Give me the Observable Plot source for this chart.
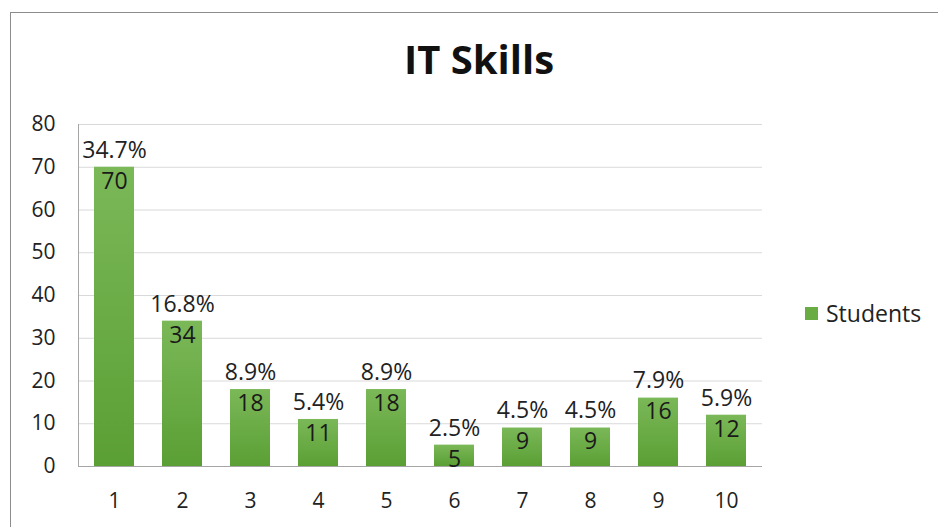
<!DOCTYPE html>
<html><head><meta charset="utf-8">
<script src="https://cdn.jsdelivr.net/npm/d3@7"></script>
<script src="https://cdn.jsdelivr.net/npm/@observablehq/plot@0.6"></script>
<style>
body{margin:0;background:#fff;font-family:"Open Sans",sans-serif;}
#wrap{position:relative;width:938px;height:527px;overflow:hidden;}
#frame{position:absolute;left:10px;top:12px;width:940px;height:530px;border:1px solid #8c8c8c;box-sizing:border-box;}
#title{position:absolute;left:0;top:33px;width:958px;text-align:center;font-size:40px;line-height:52px;font-weight:bold;color:#111;}
#chart{position:absolute;left:0;top:110px;}
#legend{position:absolute;left:805px;top:297px;font-size:23px;color:#222;display:flex;align-items:center;line-height:32px;}
#legend span.sw{display:inline-block;width:13px;height:13px;background:#6aac44;margin-right:8px;}
</style></head>
<body>
<div id="wrap">
<div id="frame"></div>
<div id="title">IT Skills</div>
<div id="chart"></div>
<div id="legend"><span class="sw"></span>Students</div>
</div>
<script>
const categories = ["1","2","3","4","5","6","7","8","9","10"];
const students = [70,34,18,11,18,5,9,9,16,12];
const percents = ["34.7%","16.8%","8.9%","5.4%","8.9%","2.5%","4.5%","4.5%","7.9%","5.9%"];
const yTicks = [0,10,20,30,40,50,60,70,80];

const data = categories.map((c,i)=>({cat:c, value:students[i], pct:percents[i]}));

const plot = Plot.plot({
  width: 938,
  height: 417,
  marginLeft: 78,
  marginRight: 176,
  marginTop: 14,
  marginBottom: 61,
  style: {fontFamily: "'Open Sans', sans-serif", fontSize: "21px", color: "#222", background: "transparent"},
  x: {domain: categories, label: null, paddingInner: 0.415, paddingOuter: 0.2075, tickSize: 0, tickPadding: 27},
  y: {domain: [0, 80], ticks: yTicks, label: null, tickSize: 0, tickPadding: 23},
  marks: [
    Plot.gridY(yTicks.filter(d=>d>0), {stroke: "#d9d9d9", strokeOpacity: 1}),
    Plot.frame({anchor: "left", stroke: "#a6a6a6"}),
    Plot.barY(data, {x: "cat", y: "value", fill: "url(#barGrad)"}),
    Plot.ruleY([0], {stroke: "#a6a6a6"}),
    Plot.text(data, {x: "cat", y: "value", text: "pct", dy: -17, fill: "#222", fontSize: 23}),
    Plot.text(data, {x: "cat", y: "value", text: d=>String(d.value), dy: 14, fill: "#1a1a1a", fontSize: 23})
  ]
});
const svg = d3.select(plot);
const defs = svg.insert("defs", ":first-child");
const g = defs.append("linearGradient").attr("id","barGrad").attr("x1",0).attr("y1",0).attr("x2",0).attr("y2",1);
g.append("stop").attr("offset","0%").attr("stop-color","#7bb858");
g.append("stop").attr("offset","100%").attr("stop-color","#5a9f34");
document.getElementById("chart").appendChild(plot);
</script>
</body></html>
